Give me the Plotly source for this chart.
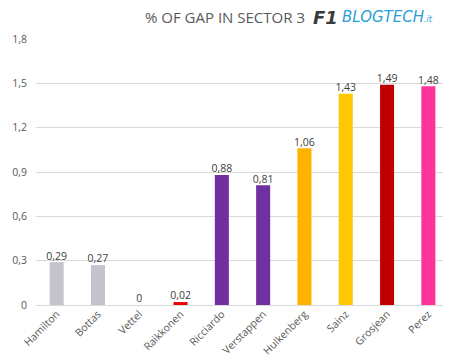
import plotly.graph_objects as go

drivers = ["Hamilton", "Bottas", "Vettel", "Raikkonen", "Ricciardo", "Verstappen",
           "Hulkenberg", "Sainz", "Grosjean", "Perez"]
values = [0.29, 0.27, 0.0, 0.02, 0.88, 0.81, 1.06, 1.43, 1.49, 1.48]
colors = ["#c4c2cc", "#c4c2cc", "#d8d8d8", "#ee0000", "#7030a0", "#7030a0",
          "#ffb300", "#ffc800", "#c00000", "#ff3399"]
labels = ["0,29", "0,27", "0", "0,02", "0,88", "0,81", "1,06", "1,43", "1,49", "1,48"]
yticks = [0, 0.3, 0.6, 0.9, 1.2, 1.5, 1.8]
yticklabels = ["0", "0,3", "0,6", "0,9", "1,2", "1,5", "1,8"]

FONT = "Open Sans, Liberation Sans, sans-serif"

fig = go.Figure()
fig.add_trace(go.Bar(
    x=drivers, y=values, marker=dict(color=colors, line=dict(width=0)),
    hoverinfo="skip",
))
fig.add_trace(go.Scatter(
    x=drivers, y=values, mode="text", text=labels, textposition="top center",
    cliponaxis=False,
    textfont=dict(family=FONT, size=10.5, color="#404040"),
))

fig.update_layout(
    width=451, height=363,
    paper_bgcolor="white", plot_bgcolor="white",
    margin=dict(l=28, r=10, t=31, b=66, autoexpand=False),
    bargap=0.66,
    showlegend=False,
    font=dict(family=FONT, color="#595959"),
    xaxis=dict(tickangle=-45, tickfont=dict(size=10.5, color="#595959"),
               showgrid=False, showline=False, ticks="", automargin=False),
    yaxis=dict(range=[0, 1.8], tickvals=yticks, ticktext=yticklabels,
               tickfont=dict(size=10.5, color="#595959"),
               showgrid=True, gridcolor="#d9d9d9", gridwidth=1,
               zeroline=True, zerolinecolor="#d9d9d9", zerolinewidth=1,
               showline=False, ticks="", ticklabelstandoff=8, automargin=False),
    annotations=[
        dict(text="% OF GAP IN SECTOR 3", xref="paper", yref="paper", x=0.655, y=1.0,
             yshift=22, xanchor="right", yanchor="middle", showarrow=False,
             font=dict(size=15, color="#595959", family=FONT)),
        dict(text="<b><i>F1</i></b>", xref="paper", yref="paper", x=0.665, y=1.0,
             yshift=22, xanchor="left", yanchor="middle", showarrow=False,
             font=dict(size=18, color="#3a3a3a", family="DejaVu Sans, sans-serif")),
        dict(text="<i>BLOGTECH</i><span style='font-size:8px'><i>.it</i></span>",
             xref="paper", yref="paper", x=0.735, y=1.0,
             yshift=22, xanchor="left", yanchor="middle", showarrow=False,
             font=dict(size=15, color="#2a9fd6", family="DejaVu Sans, sans-serif")),
    ],
)

fig.write_html("out.html")
